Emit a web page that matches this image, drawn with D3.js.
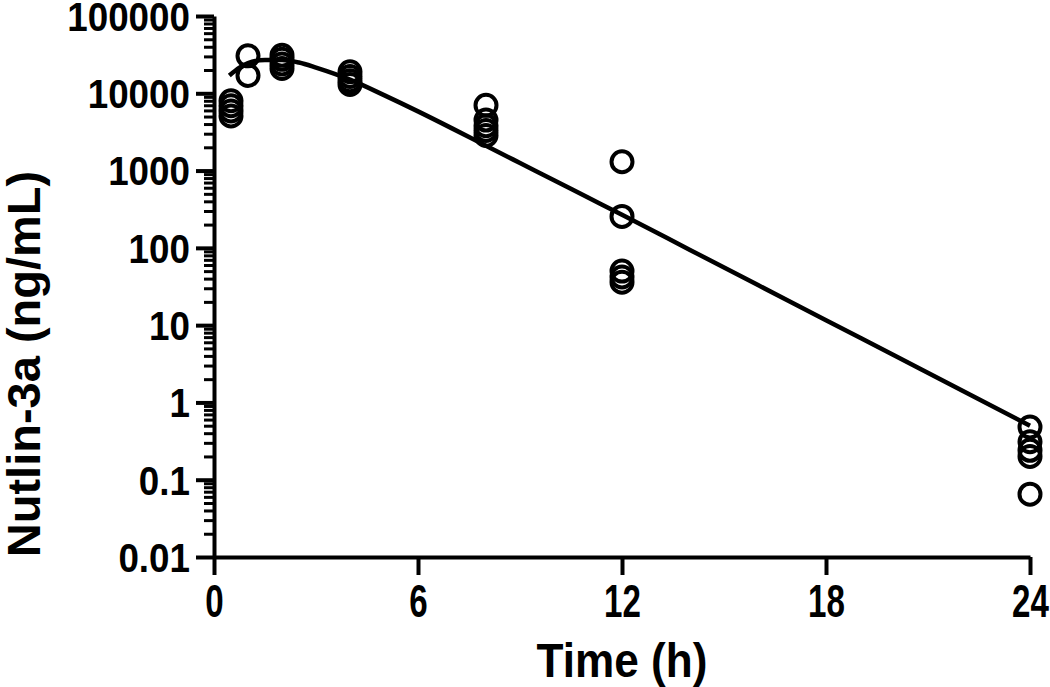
<!DOCTYPE html>
<html>
<head>
<meta charset="utf-8">
<script src="https://cdn.jsdelivr.net/npm/d3@7"></script>
<style>
  html, body { margin: 0; padding: 0; background: #fff; }
  svg { display: block; }
  text { font-family: "Liberation Sans", Arial, sans-serif; font-weight: bold; fill: #000; }
</style>
</head>
<body>
<svg id="chart" width="1050" height="687"></svg>
<script>
// ---- data ----
const xTicks = [0, 6, 12, 18, 24];
const yTicks = [0.01, 0.1, 1, 10, 100, 1000, 10000, 100000];
const yTickLabels = ["0.01", "0.1", "1", "10", "100", "1000", "10000", "100000"];

const obsT05 = [8000, 6900, 5900, 5100];
const obsT1  = [30500, 17000];
const obsT2  = [31000, 27500, 24000, 21000];
const obsT4  = [19000, 16500, 14500, 13000];
const obsT8  = [7000, 4500, 3800, 3300, 2850];
const obsT12 = [1300, 255, 50, 42, 36];
const obsT24 = [0.48, 0.31, 0.24, 0.2, 0.065];
const obsTimes = [0.5, 1, 2, 4, 8, 12, 24];
const obsGroups = [obsT05, obsT1, obsT2, obsT4, obsT8, obsT12, obsT24];

const fitTimes = [0.45, 0.75, 1, 1.5, 2, 2.5, 3, 4, 5, 6, 7, 8, 9, 10, 11, 12, 14, 16, 18, 20, 22, 24];
const fitConc  = [17000, 21500, 24500, 27000, 27000, 25000, 21500, 15000, 9460, 5830, 3515, 2095, 1253, 750, 448, 268, 94, 33, 11.6, 4.07, 1.43, 0.5];

// ---- chart ----
const svg = d3.select("#chart");
const x = d3.scaleLinear().domain([0, 24]).range([214, 1030]);
const y = d3.scaleLog().domain([0.01, 100000]).range([557, 16]);

const minorTicks = [];
for (let e = -2; e < 5; e++) {
  for (let m = 2; m <= 9; m++) minorTicks.push(m * Math.pow(10, e));
}

const axisStroke = 4;

// minor y ticks
const gMinor = svg.append("g").attr("transform", `translate(${x(0)},0)`)
  .call(d3.axisLeft(y).tickValues(minorTicks).tickSize(10).tickSizeOuter(0).tickFormat(""));
gMinor.select(".domain").remove();
gMinor.selectAll("line").attr("stroke", "#000").attr("stroke-width", 3);

// major y axis
const gy = svg.append("g").attr("transform", `translate(${x(0)},0)`)
  .call(d3.axisLeft(y).tickValues(yTicks).tickSize(18).tickSizeOuter(0)
    .tickFormat((d, i) => yTickLabels[i]));
gy.select(".domain").attr("stroke", "#000").attr("stroke-width", axisStroke);
gy.selectAll("line").attr("stroke", "#000").attr("stroke-width", axisStroke);
gy.selectAll(".tick text")
  .style("font-size", "40px")
  .attr("x", 0)
  .attr("dy", "0.36em")
  .attr("text-anchor", "end")
  .attr("transform", "translate(-24,0) scale(0.92,1)");

// x axis
const gx = svg.append("g").attr("transform", `translate(0,${y(0.01)})`)
  .call(d3.axisBottom(x).tickValues(xTicks).tickSize(18).tickSizeOuter(0));
gx.select(".domain").attr("stroke", "#000").attr("stroke-width", axisStroke);
gx.selectAll("line").attr("stroke", "#000").attr("stroke-width", axisStroke);
gx.selectAll(".tick text")
  .style("font-size", "46px")
  .attr("x", 0)
  .attr("y", 0)
  .attr("dy", 0)
  .attr("text-anchor", "middle")
  .attr("transform", "translate(0,60) scale(0.72,1)");

// fitted line
const line = d3.line()
  .x((d, i) => x(fitTimes[i]))
  .y(d => y(d))
  .curve(d3.curveMonotoneX);
svg.append("path")
  .datum(fitConc)
  .attr("d", line)
  .attr("fill", "none")
  .attr("stroke", "#000")
  .attr("stroke-width", 4.5);

// observed points
const pts = [];
obsGroups.forEach((arr, i) => arr.forEach(v => pts.push({t: obsTimes[i], c: v})));
svg.append("g").selectAll("circle")
  .data(pts).enter().append("circle")
  .attr("cx", d => x(d.t))
  .attr("cy", d => y(d.c))
  .attr("r", 10.5)
  .attr("fill", "none")
  .attr("stroke", "#000")
  .attr("stroke-width", 4);

// axis titles
svg.append("text")
  .attr("transform", `translate(${x(12)},677) scale(0.92,1)`)
  .attr("text-anchor", "middle")
  .style("font-size", "48px")
  .text("Time (h)");

svg.append("text")
  .attr("transform", "translate(40,364) rotate(-90)")
  .attr("text-anchor", "middle")
  .style("font-size", "47px")
  .text("Nutlin-3a (ng/mL)");
</script>
</body>
</html>
